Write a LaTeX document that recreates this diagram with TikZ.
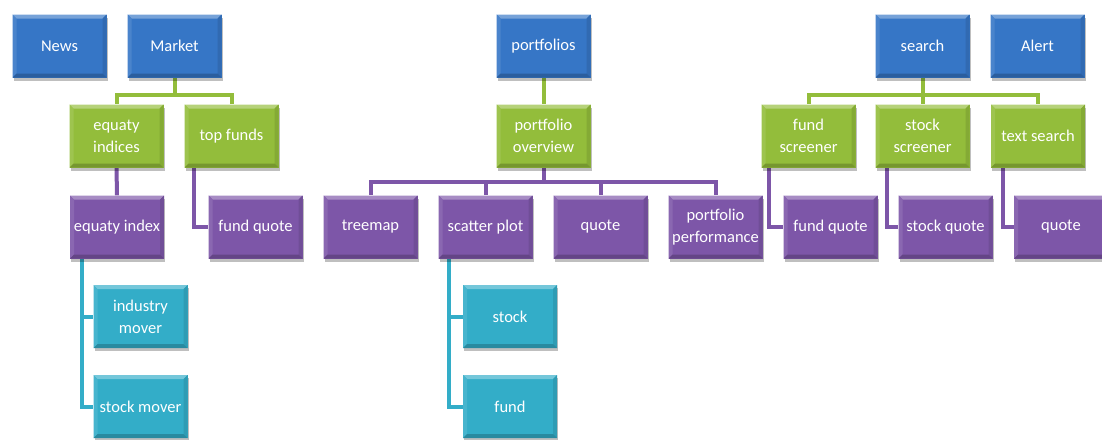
\documentclass[tikz,border=0pt]{standalone}
\usepackage{fontspec}
\setmainfont{Carlito}
\usetikzlibrary{shadows,backgrounds,calc}

\definecolor{tileblue}{HTML}{3676C6}
\definecolor{tilegreen}{HTML}{93BD3B}
\definecolor{tilepurple}{HTML}{7D56A8}
\definecolor{tilecyan}{HTML}{33ADC8}

\tikzset{
  tile/.style={
    draw=none, fill=#1, text=white, align=center,
    minimum width=94pt, minimum height=63pt, inner sep=2pt,
    font=\fontsize{16.5}{22}\selectfont,
    drop shadow={shadow xshift=1pt, shadow yshift=-3pt, opacity=0.25, fill=black},
    path picture={
      \coordinate (pnw) at (path picture bounding box.north west);
      \coordinate (pne) at (path picture bounding box.north east);
      \coordinate (psw) at (path picture bounding box.south west);
      \coordinate (pse) at (path picture bounding box.south east);
      % bevelled rim: light top, shaded sides and bottom
      \fill[#1!68!white] (pnw) -- (pne) -- ($(pne)+(-4pt,-4pt)$) -- ($(pnw)+(4pt,-4pt)$) -- cycle;
      \fill[#1!90!white] (pnw) -- ($(pnw)+(4pt,-4pt)$) -- ($(psw)+(4pt,4pt)$) -- (psw) -- cycle;
      \fill[#1!90!black] (pne) -- ($(pne)+(-4pt,-4pt)$) -- ($(pse)+(-4pt,4pt)$) -- (pse) -- cycle;
      \fill[#1!80!black] (psw) -- ($(psw)+(4pt,4pt)$) -- ($(pse)+(-4pt,4pt)$) -- (pse) -- cycle;
    }
  },
  link/.style={draw=#1, line width=4pt},
}

\begin{document}
\begin{tikzpicture}[x=1pt, y=-1pt]
\useasboundingbox (0,0) rectangle (1102,439);

% top level
\node[tile=tileblue] (news)   at (59.5,46)   {News};
\node[tile=tileblue] (market) at (174.5,46)  {Market};
\node[tile=tileblue] (portf)  at (543.5,46)  {portfolios};
\node[tile=tileblue] (search) at (922.5,46)  {search};
\node[tile=tileblue] (alert)  at (1037.5,46) {Alert};

% second level
\node[tile=tilegreen] (eqidx)  at (116.5,136) {equaty\\indices};
\node[tile=tilegreen] (topf)   at (231.5,136) {top funds};
\node[tile=tilegreen] (povw)   at (543.5,136) {portfolio\\overview};
\node[tile=tilegreen] (fscr)   at (808.5,136) {fund\\screener};
\node[tile=tilegreen] (sscr)   at (922.5,136) {stock\\screener};
\node[tile=tilegreen] (tsrch)  at (1038,136)  {text search};

% third level
\node[tile=tilepurple] (eqix)   at (117,227)   {equaty index};
\node[tile=tilepurple] (fq)     at (255.5,227) {fund quote};
\node[tile=tilepurple] (tmap)   at (370.5,227) {treemap};
\node[tile=tilepurple] (scat)   at (485.5,227) {scatter plot};
\node[tile=tilepurple] (pquote) at (600.5,227) {quote};
\node[tile=tilepurple] (pperf)  at (715.5,227) {portfolio\\performance};
\node[tile=tilepurple] (sfq)    at (830.5,227) {fund quote};
\node[tile=tilepurple] (ssq)    at (945.5,227) {stock quote};
\node[tile=tilepurple] (tq)     at (1061,227)  {quote};

% fourth level
\node[tile=tilecyan] (indm)  at (140.5,316.5) {industry\\mover};
\node[tile=tilecyan] (stkm)  at (140.5,406.5) {stock mover};
\node[tile=tilecyan] (stk)   at (510,316.5)   {stock};
\node[tile=tilecyan] (fnd)   at (510,406.5)   {fund};

\begin{scope}[on background layer]
  \fill[white] (0,0) rectangle (1102,439);

  % Market branch
  \draw[link=tilegreen] (market.south) -- ++(0,17) -| (eqidx.north);
  \draw[link=tilegreen] (market.south) -- ++(0,17) -| (topf.north);
  \draw[link=tilepurple] (eqidx.south) -- (eqix.north);
  \draw[link=tilepurple] ([xshift=10pt]topf.south west) |- (fq.west);
  \draw[link=tilecyan] ([xshift=12pt]eqix.south west) |- (indm.west);
  \draw[link=tilecyan] ([xshift=12pt]eqix.south west) |- (stkm.west);

  % portfolios branch
  \draw[link=tilegreen] (portf.south) -- (povw.north);
  \foreach \c in {tmap,scat,pquote,pperf}
    \draw[link=tilepurple] (povw.south) -- ++(0,14.5) -| (\c.north);
  \draw[link=tilecyan] ([xshift=11pt]scat.south west) |- (stk.west);
  \draw[link=tilecyan] ([xshift=11pt]scat.south west) |- (fnd.west);

  % search branch
  \foreach \c in {fscr,sscr,tsrch}
    \draw[link=tilegreen] (search.south) -- ++(0,17) -| (\c.north);
  \draw[link=tilepurple] ([xshift=8pt]fscr.south west) |- (sfq.west);
  \draw[link=tilepurple] ([xshift=12pt]sscr.south west) |- (ssq.west);
  \draw[link=tilepurple] ([xshift=12pt]tsrch.south west) |- (tq.west);
\end{scope}
\end{tikzpicture}
\end{document}
